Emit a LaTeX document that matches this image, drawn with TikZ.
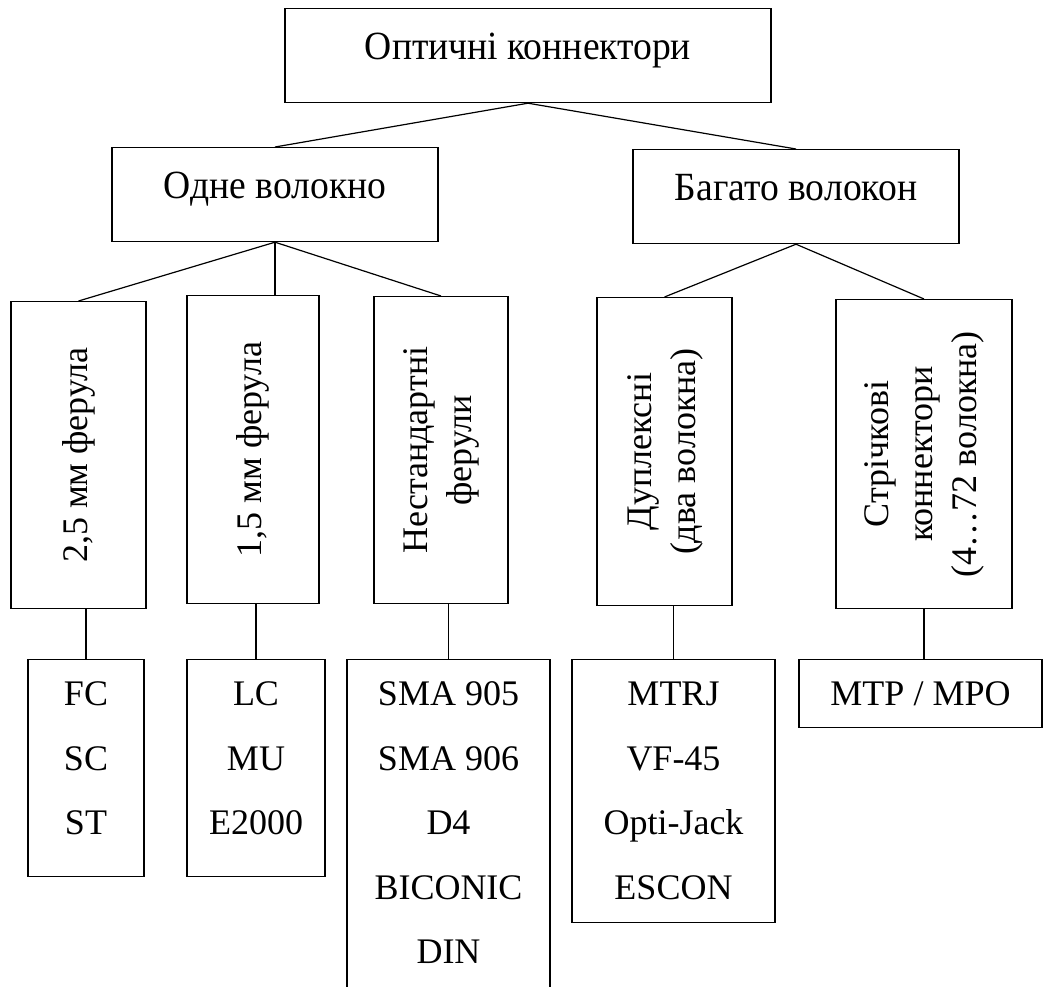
\documentclass[tikz,border=0pt]{standalone}
\usepackage{fontspec}
\usepackage{graphicx}
\setmainfont{Liberation Serif}
\newfontfamily\vuzkyjfont[FakeStretch=0.94]{Liberation Serif}
\tikzset{
    golovna/.style={draw, line width=1.2pt, inner sep=0pt, anchor=north,
        text height=51pt, text depth=43pt,
        font=\vuzkyjfont\fontsize{40pt}{48pt}\selectfont},
    vertyk/.style={draw, line width=1.2pt, inner sep=0pt, anchor=north,
        font=\fontsize{36pt}{44pt}\selectfont},
    spysok/.style={draw, line width=1.2pt, inner sep=0pt, anchor=north,
        text height=46pt, font=\fontsize{36pt}{64.5pt}\selectfont},
    zvjazok/.style={line width=1.2pt}
}

\begin{document}
\begin{tikzpicture}[x=1pt,y=-1pt]
    \path[use as bounding box] (0,0) rectangle (1044,987);
    \clip (0,0) rectangle (1044,987);

    \node[golovna, minimum width=486pt] (opt) at (528,8) {Оптичні коннектори};
    \node[golovna, minimum width=326pt] (odne) at (275,147) {Одне волокно};
    \node[golovna, minimum width=326pt] (bagato) at (796,149) {Багато волокон};

    \node[vertyk, minimum width=135pt, minimum height=307pt] (f25) at (78.5,301)
        {\rotatebox{90}{2,5 мм ферула}};
    \node[vertyk, minimum width=132pt, minimum height=308pt] (f15) at (253,295)
        {\rotatebox{90}{1,5 мм ферула}};
    \node[vertyk, minimum width=134pt, minimum height=307pt] (nestand) at (441,296)
        {\rotatebox{90}{\begin{tabular}{@{}c@{}}Нестандартні\\ферули\end{tabular}}};
    \node[vertyk, minimum width=135pt, minimum height=308pt] (dupleks) at (664.5,297)
        {\rotatebox{90}{\begin{tabular}{@{}c@{}}Дуплексні\\(два волокна)\end{tabular}}};
    \node[vertyk, minimum width=176pt, minimum height=309pt] (strichka) at (924,299)
        {\rotatebox{90}{\begin{tabular}{@{}c@{}}Стрічкові\\коннектори\\(4…72 волокна)\end{tabular}}};

    % lower row: sma box runs past the bottom edge
    \node[spysok, minimum width=116pt, text depth=171pt] (fc) at (86,659)
        {\begin{tabular}[t]{@{}c@{}}FC\\SC\\ST\end{tabular}};
    \node[spysok, minimum width=138pt, text depth=171pt] (lc) at (256,659)
        {\begin{tabular}[t]{@{}c@{}}LC\\MU\\E2000\end{tabular}};
    \node[spysok, minimum width=203pt, text depth=330pt] (sma) at (448.5,659)
        {\begin{tabular}[t]{@{}c@{}}SMA 905\\SMA 906\\D4\\BICONIC\\DIN\end{tabular}};
    \node[spysok, minimum width=203pt, text depth=217pt] (mtrj) at (673.5,659)
        {\begin{tabular}[t]{@{}c@{}}MTRJ\\VF-45\\Opti-Jack\\ESCON\end{tabular}};
    \node[spysok, minimum width=243pt, text depth=22pt] (mtp) at (920.5,659) {MTP / MPO};

    \draw[zvjazok] (opt.south) -- (odne.north);
    \draw[zvjazok] (opt.south) -- (bagato.north);
    \draw[zvjazok] (odne.south) -- (f25.north);
    \draw[zvjazok] (odne.south) -- (odne.south |- f15.north);
    \draw[zvjazok] (odne.south) -- (nestand.north);
    \draw[zvjazok] (bagato.south) -- (dupleks.north);
    \draw[zvjazok] (bagato.south) -- (strichka.north);

    \draw[zvjazok] (fc.north) -- (fc.north |- f25.south);
    \draw[zvjazok] (lc.north) -- (lc.north |- f15.south);
    \draw[zvjazok] (sma.north) -- (sma.north |- nestand.south);
    \draw[zvjazok] (mtrj.north) -- (mtrj.north |- dupleks.south);
    \draw[zvjazok] (strichka.south) -- (strichka.south |- mtp.north);
\end{tikzpicture}
\end{document}
